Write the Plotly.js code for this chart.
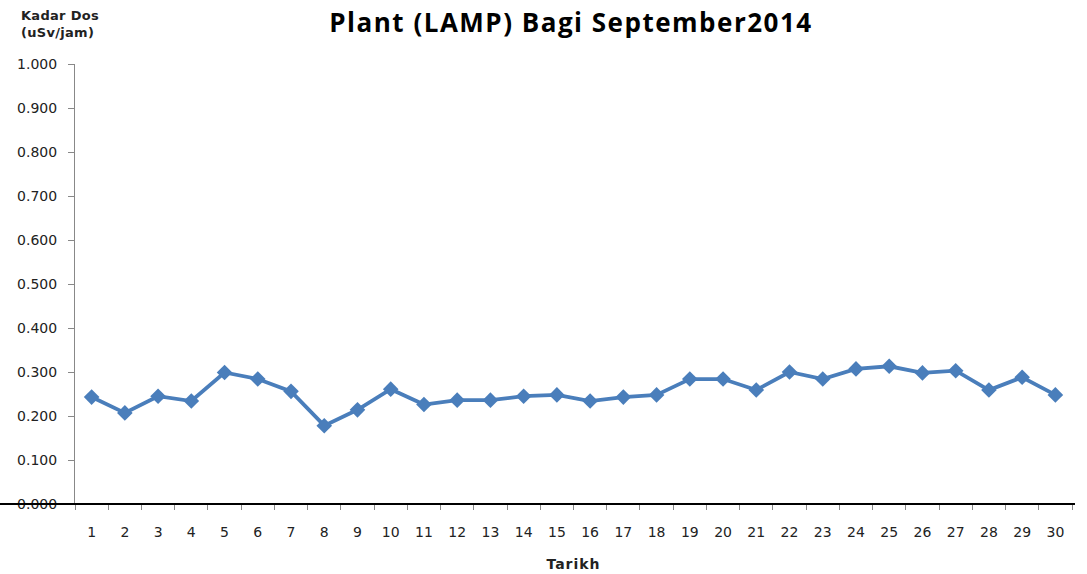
<!DOCTYPE html>
<html>
<head>
<meta charset="utf-8">
<script src="https://cdn.plot.ly/plotly-3.0.1.min.js"></script>
<style>html,body{margin:0;padding:0;background:#fff;}#chart{width:1087px;height:574px;}
.gtitle{letter-spacing:1.5px;}
.annotation-text{letter-spacing:0.3px;}
.xtitle{letter-spacing:1px;}
</style>
</head>
<body>
<div id="chart"></div>
<script>
const days = ["1","2","3","4","5","6","7","8","9","10","11","12","13","14","15","16","17","18","19","20","21","22","23","24","25","26","27","28","29","30"];
const doseRate = [0.243,0.207,0.245,0.234,0.299,0.284,0.256,0.178,0.214,0.261,0.226,0.236,0.236,0.245,0.248,0.234,0.243,0.248,0.284,0.284,0.259,0.300,0.284,0.307,0.313,0.298,0.303,0.259,0.288,0.248];
const yTickVals = [0,0.1,0.2,0.3,0.4,0.5,0.6,0.7,0.8,0.9,1.0];
const titleText = "Plant (LAMP) Bagi September2014";
const yLabel = "Kadar Dos<br>(uSv/jam)";
const xLabel = "Tarikh";

const trace = {
  type: "scatter",
  mode: "lines+markers",
  x: days,
  y: doseRate,
  line: {color: "#4a7ebb", width: 3.8},
  marker: {symbol: "diamond", size: 12, color: "#4a7ebb", line: {width: 0}},
  hoverinfo: "x+y"
};

const layout = {
  width: 1087, height: 574,
  margin: {l: 75, r: 15, t: 64, b: 70},
  paper_bgcolor: "#fff", plot_bgcolor: "#fff",
  showlegend: false,
  title: {
    text: titleText,
    font: {family: "Open Sans, sans-serif", size: 26, color: "#000", weight: "bold"},
    x: 571/1087, xanchor: "center",
    y: 1 - 23/574, yanchor: "middle", yref: "container"
  },
  xaxis: {
    type: "category",
    range: [-0.5, 29.5],
    showgrid: false, zeroline: false, showline: false,
    ticks: "outside", tickson: "boundaries", ticklen: 5, tickcolor: "#888", tickwidth: 1,
    tickfont: {family: "DejaVu Sans, Verdana, sans-serif", size: 14, color: "#222"},
    ticklabelstandoff: 18,
    title: {text: xLabel, font: {family: "DejaVu Sans, sans-serif", size: 14, color: "#222", weight: "bold"}, standoff: 20}
  },
  yaxis: {
    range: [0, 1.0],
    tickvals: yTickVals,
    tickformat: ".3f",
    showgrid: false, zeroline: false,
    showline: true, linecolor: "#888", linewidth: 1,
    ticks: "outside", ticklen: 6, tickcolor: "#888",
    tickfont: {family: "DejaVu Sans, Verdana, sans-serif", size: 14, color: "#222"},
    ticklabelstandoff: 8
  },
  shapes: [{
    type: "line", xref: "paper", yref: "paper",
    x0: -75/997, x1: 1.003, y0: 0, y1: 0,
    line: {color: "#000", width: 2}
  }],
  annotations: [{
    text: yLabel, showarrow: false,
    xref: "paper", yref: "paper",
    x: (60-75)/997, y: (504-24)/440, xanchor: "center", yanchor: "middle",
    align: "left",
    font: {family: "DejaVu Sans, sans-serif", size: 13, color: "#222", weight: "bold"}
  }]
};

Plotly.newPlot("chart", [trace], layout, {displayModeBar: false, staticPlot: true});
</script>
</body>
</html>
